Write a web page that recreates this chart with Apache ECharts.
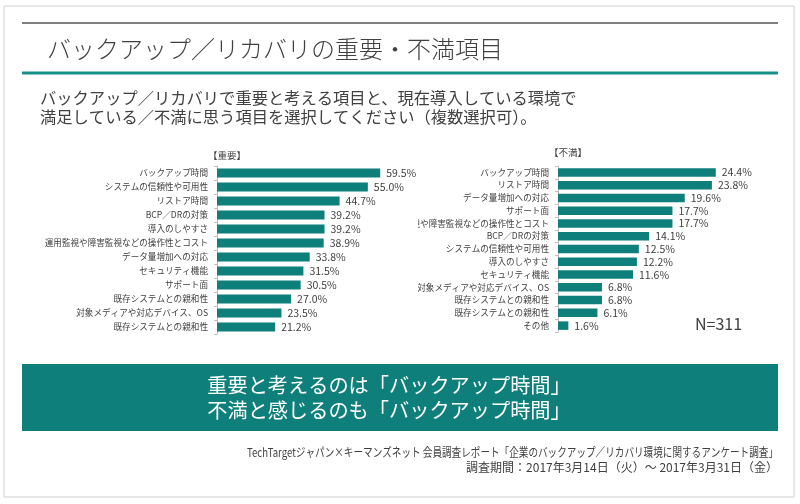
<!DOCTYPE html>
<html>
<head>
<meta charset="utf-8">
<script src="https://cdn.jsdelivr.net/npm/echarts@6/dist/echarts.min.js"></script>
<style>
    html, body { margin: 0; padding: 0; background: #fff; }
    #page { position: relative; width: 800px; height: 504px; overflow: hidden; }
    #deco, #left-chart { position: absolute; left: 0; top: 0; width: 800px; height: 504px; }
    #right-chart { position: absolute; left: 418px; top: 0; width: 382px; height: 504px; }
</style>
</head>
<body>
<div id="page">
    <div id="deco"></div>
    <div id="left-chart"></div>
    <div id="right-chart"></div>
</div>
<script>
// 【重要】
const importantCategories = [
    'バックアップ時間',
    'システムの信頼性や可用性',
    'リストア時間',
    'BCP／DRの対策',
    '導入のしやすさ',
    '運用監視や障害監視などの操作性とコスト',
    'データ量増加への対応',
    'セキュリティ機能',
    'サポート面',
    '既存システムとの親和性',
    '対象メディアや対応デバイス、OS',
    '既存システムとの親和性'
];
const importantValues = [59.5, 55.0, 44.7, 39.2, 39.2, 38.9, 33.8, 31.5, 30.5, 27.0, 23.5, 21.2];

// 【不満】
const dissatCategories = [
    'バックアップ時間',
    'リストア時間',
    'データ量増加への対応',
    'サポート面',
    '運用監視や障害監視などの操作性とコスト',
    'BCP／DRの対策',
    'システムの信頼性や可用性',
    '導入のしやすさ',
    'セキュリティ機能',
    '対象メディアや対応デバイス、OS',
    '既存システムとの親和性',
    '既存システムとの親和性',
    'その他'
];
const dissatValues = [24.4, 23.8, 19.6, 17.7, 17.7, 14.1, 12.5, 12.2, 11.6, 6.8, 6.8, 6.1, 1.6];

const FONT = '"Noto Sans CJK JP", "Noto Sans", sans-serif';
const TEAL = '#0f7f7b';
const TEXT = '#404040';

function barOption(categories, values, grid, xMax, barWidth) {
    return {
        animation: false,
        grid: Object.assign({ outerBoundsMode: 'none', containLabel: false }, grid),
        xAxis: { type: 'value', min: 0, max: xMax, show: false },
        yAxis: {
            type: 'category',
            inverse: true,
            data: categories,
            axisLine: { show: true, lineStyle: { color: '#bfbfbf', width: 1 } },
            axisTick: { show: true, length: 3, lineStyle: { color: '#bfbfbf' } },
            axisLabel: { color: TEXT, fontSize: 8.6, fontFamily: FONT, margin: 9 },
            splitLine: { show: false }
        },
        series: [{
            type: 'bar',
            data: values,
            barWidth: barWidth,
            itemStyle: { color: TEAL },
            label: {
                show: true,
                position: 'right',
                distance: 6,
                color: TEXT,
                fontSize: 10.5,
                fontFamily: FONT,
                formatter: p => p.value.toFixed(1) + '%'
            }
        }]
    };
}

function initDeco() {
    const chart = echarts.init(document.getElementById('deco'));
    chart.setOption({
        animation: false,
        graphic: [
            { type: 'rect', shape: { x: 4, y: 6, width: 790, height: 491 }, style: { fill: '#fff', stroke: '#d0d0d0', lineWidth: 1 } },
            { type: 'line', shape: { x1: 22, y1: 23, x2: 778, y2: 23 }, style: { stroke: '#7f7f7f', lineWidth: 2 } },
            { type: 'text', x: 47, y: 49, style: { text: 'バックアップ／リカバリの重要・不満項目', fill: TEXT, font: '300 24px ' + FONT, textVerticalAlign: 'middle' } },
            { type: 'line', shape: { x1: 22, y1: 73, x2: 778, y2: 73 }, style: { stroke: '#17908a', lineWidth: 3 } },
            { type: 'text', x: 40, y: 98, style: { text: 'バックアップ／リカバリで重要と考える項目と、現在導入している環境で', fill: TEXT, font: '16.3px ' + FONT, textVerticalAlign: 'middle' } },
            { type: 'text', x: 40, y: 117, style: { text: '満足している／不満に思う項目を選択してください（複数選択可）。', fill: TEXT, font: '16.3px ' + FONT, textVerticalAlign: 'middle' } },
            { type: 'text', x: 227, y: 155, style: { text: '【重要】', fill: TEXT, font: '9.5px ' + FONT, textAlign: 'center', textVerticalAlign: 'middle' } },
            { type: 'text', x: 568, y: 152, style: { text: '【不満】', fill: TEXT, font: '9.5px ' + FONT, textAlign: 'center', textVerticalAlign: 'middle' } },
            { type: 'text', x: 695, y: 324, style: { text: 'N=311', fill: TEXT, font: '16px ' + FONT, textVerticalAlign: 'middle' } },
            { type: 'rect', shape: { x: 22, y: 364, width: 756, height: 67 }, style: { fill: TEAL } },
            { type: 'text', x: 389, y: 385, style: { text: '重要と考えるのは「バックアップ時間」', fill: '#fff', font: '20.2px ' + FONT, textAlign: 'center', textVerticalAlign: 'middle' } },
            { type: 'text', x: 389, y: 410, style: { text: '不満と感じるのも「バックアップ時間」', fill: '#fff', font: '20.2px ' + FONT, textAlign: 'center', textVerticalAlign: 'middle' } },
            { type: 'text', x: 778, y: 452, scaleX: 0.8, style: { text: 'TechTargetジャパン×キーマンズネット 会員調査レポート「企業のバックアップ／リカバリ環境に関するアンケート調査」', fill: TEXT, font: '12px ' + FONT, textAlign: 'right', textVerticalAlign: 'middle' } },
            { type: 'text', x: 778, y: 467, style: { text: '調査期間：2017年3月14日（火）～ 2017年3月31日（金）', fill: TEXT, font: '12px ' + FONT, textAlign: 'right', textVerticalAlign: 'middle' } }
        ]
    });
    return chart;
}

function initLeft() {
    const chart = echarts.init(document.getElementById('left-chart'));
    chart.setOption(barOption(importantCategories, importantValues,
        { left: 217, top: 166, width: 192, height: 168 }, 70, 9));
    return chart;
}

function initRight() {
    const chart = echarts.init(document.getElementById('right-chart'));
    chart.setOption(barOption(dissatCategories, dissatValues,
        { left: 140, top: 166, width: 194, height: 166 }, 30, 8.5));
    return chart;
}

initDeco();
initLeft();
initRight();
</script>
</body>
</html>
